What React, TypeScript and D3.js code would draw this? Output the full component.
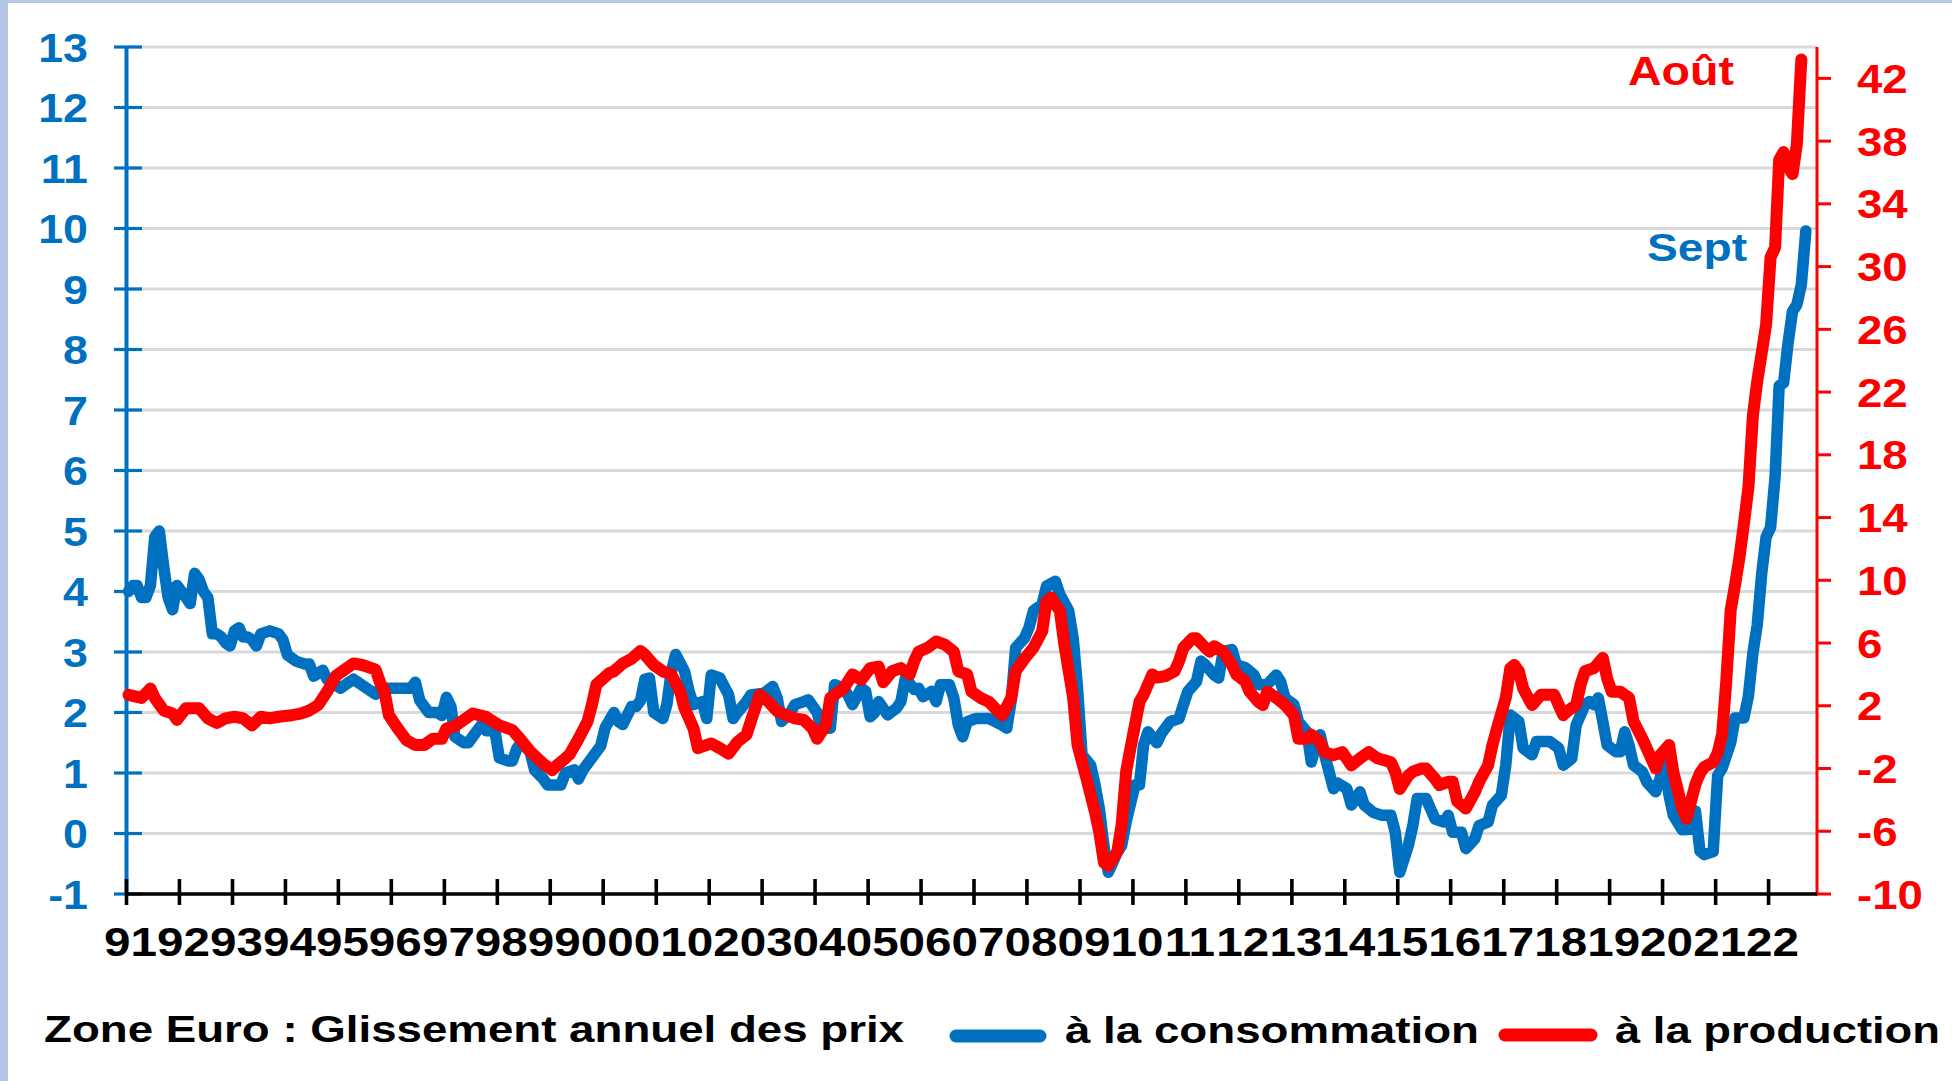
import React from 'react';
import * as d3 from 'd3';

const W = 1952;
const H = 1081;

const BLUE = '#0070C0';
const RED = '#FF0000';
const FONT = "'Liberation Sans', Arial, Helvetica, sans-serif";

const yearLabels = ['91','92','93','94','95','96','97','98','99','00','01','02','03','04','05','06','07','08','09','10','11','12','13','14','15','16','17','18','19','20','21','22'];
const leftTicks = [-1, 0, 1, 2, 3, 4, 5, 6, 7, 8, 9, 10, 11, 12, 13];
const rightTicks = [-10, -6, -2, 2, 6, 10, 14, 18, 22, 26, 30, 34, 38, 42];

const legendTitle = 'Zone Euro : Glissement annuel des prix';
const seriesNames = ['à la consommation', 'à la production'];
const endLabels = ['Sept', 'Août'];

// Glissement annuel des prix à la consommation (axe de gauche)
const consumption: [string, number][] = [
  ['1991-01',4.0],['1991-02',4.1],['1991-03',4.1],['1991-04',3.9],['1991-05',3.9],['1991-06',4.1],['1991-07',4.9],['1991-08',5.0],['1991-09',4.4],['1991-10',3.9],['1991-11',3.7],['1991-12',4.1],
  ['1992-01',4.0],['1992-02',3.9],['1992-03',3.8],['1992-04',4.3],['1992-05',4.2],['1992-06',4.0],['1992-07',3.9],['1992-08',3.3],['1992-09',3.3],['1992-10',3.25],['1992-11',3.15],['1992-12',3.1],
  ['1993-01',3.35],['1993-02',3.4],['1993-03',3.25],['1993-04',3.25],['1993-05',3.2],['1993-06',3.1],['1993-07',3.3],['1993-09',3.35],['1993-11',3.3],['1993-12',3.2],
  ['1994-01',2.95],['1994-03',2.85],['1994-05',2.8],['1994-06',2.8],['1994-07',2.6],['1994-09',2.7],['1994-10',2.55],['1994-12',2.45],
  ['1995-01',2.4],['1995-03',2.5],['1995-04',2.55],['1995-06',2.45],['1995-08',2.35],['1995-09',2.3],['1995-10',2.4],
  ['1996-01',2.4],['1996-05',2.4],['1996-06',2.5],['1996-07',2.2],['1996-08',2.1],['1996-09',2.0],['1996-11',2.0],['1996-12',1.95],
  ['1997-01',2.25],['1997-02',2.1],['1997-03',1.6],['1997-05',1.5],['1997-06',1.5],['1997-08',1.7],['1997-09',1.8],['1997-10',1.7],['1997-12',1.7],
  ['1998-01',1.25],['1998-03',1.2],['1998-04',1.2],['1998-05',1.4],['1998-06',1.5],['1998-08',1.35],['1998-09',1.05],['1998-11',0.9],['1998-12',0.8],
  ['1999-03',0.8],['1999-04',1.0],['1999-06',1.05],['1999-07',0.9],['1999-08',1.05],['1999-10',1.25],['1999-12',1.45],
  ['2000-01',1.75],['2000-03',2.0],['2000-04',1.85],['2000-05',1.8],['2000-07',2.1],['2000-08',2.1],['2000-09',2.2],['2000-10',2.55],['2000-11',2.57],['2000-12',2.0],
  ['2001-02',1.9],['2001-03',2.13],['2001-04',2.68],['2001-05',2.96],['2001-07',2.68],['2001-08',2.35],['2001-09',2.13],['2001-11',2.18],['2001-12',1.9],
  ['2002-01',2.62],['2002-03',2.57],['2002-05',2.29],['2002-06',1.9],['2002-07',2.0],['2002-09',2.18],['2002-10',2.29],
  ['2003-01',2.32],['2003-03',2.43],['2003-04',2.24],['2003-05',1.85],['2003-07',2.0],['2003-08',2.13],['2003-10',2.18],['2003-11',2.21],
  ['2004-01',2.0],['2004-02',1.74],['2004-04',1.74],['2004-05',2.46],['2004-07',2.4],['2004-08',2.29],['2004-09',2.13],['2004-11',2.4],['2004-12',2.35],
  ['2005-01',1.93],['2005-02',2.0],['2005-03',2.18],['2005-05',1.96],['2005-07',2.07],['2005-08',2.18],['2005-09',2.57],['2005-11',2.38],['2005-12',2.4],
  ['2006-01',2.26],['2006-03',2.35],['2006-04',2.18],['2006-05',2.46],['2006-07',2.46],['2006-08',2.24],['2006-09',1.79],['2006-10',1.6],['2006-11',1.85],
  ['2007-01',1.9],['2007-04',1.9],['2007-07',1.79],['2007-08',1.74],['2007-09',2.2],['2007-10',3.07],['2007-12',3.23],
  ['2008-01',3.4],['2008-02',3.68],['2008-04',3.79],['2008-05',4.09],['2008-07',4.17],['2008-08',3.95],['2008-10',3.68],['2008-11',3.23],['2008-12',2.4],
  ['2009-01',1.3],['2009-03',1.13],['2009-04',0.8],['2009-05',0.4],['2009-06',-0.2],['2009-07',-0.64],['2009-08',-0.48],['2009-09',-0.31],['2009-10',-0.2],['2009-11',0.19],
  ['2010-01',0.8],['2010-02',0.8],['2010-03',1.46],['2010-04',1.68],['2010-06',1.5],['2010-07',1.65],['2010-09',1.85],['2010-11',1.9],['2010-12',2.13],
  ['2011-01',2.35],['2011-03',2.51],['2011-04',2.85],['2011-05',2.79],['2011-07',2.62],['2011-08',2.57],['2011-09',3.01],['2011-11',3.04],['2011-12',2.79],
  ['2012-02',2.74],['2012-04',2.62],['2012-05',2.46],['2012-07',2.46],['2012-09',2.62],['2012-10',2.51],['2012-11',2.24],
  ['2013-01',2.13],['2013-02',1.85],['2013-04',1.68],['2013-05',1.18],['2013-06',1.46],['2013-07',1.63],['2013-08',1.3],['2013-10',0.74],['2013-11',0.83],
  ['2014-01',0.74],['2014-02',0.47],['2014-04',0.69],['2014-05',0.47],['2014-07',0.35],['2014-09',0.3],['2014-11',0.3],['2014-12',0.02],
  ['2015-01',-0.64],['2015-03',-0.2],['2015-04',0.13],['2015-05',0.58],['2015-07',0.58],['2015-08',0.41],['2015-09',0.24],['2015-11',0.19],['2015-12',0.3],
  ['2016-01',0.02],['2016-03',0.02],['2016-04',-0.25],['2016-06',-0.09],['2016-07',0.13],['2016-09',0.19],['2016-10',0.47],['2016-12',0.63],
  ['2017-01',1.13],['2017-02',1.96],['2017-04',1.85],['2017-05',1.41],['2017-07',1.3],['2017-08',1.52],['2017-11',1.52],
  ['2018-01',1.41],['2018-02',1.13],['2018-04',1.24],['2018-05',1.79],['2018-07',2.13],['2018-08',2.18],['2018-09',2.13],['2018-10',2.24],['2018-11',1.85],['2018-12',1.46],
  ['2019-02',1.35],['2019-03',1.35],['2019-04',1.68],['2019-05',1.46],['2019-06',1.13],['2019-08',1.02],['2019-09',0.85],['2019-11',0.69],['2019-12',0.91],
  ['2020-01',1.18],['2020-02',0.63],['2020-03',0.3],['2020-05',0.06],['2020-07',0.07],['2020-08',0.37],['2020-09',-0.29],['2020-10',-0.35],['2020-12',-0.3],
  ['2021-01',0.96],['2021-02',1.08],['2021-04',1.5],['2021-05',1.91],['2021-07',1.91],['2021-08',2.27],['2021-09',2.98],['2021-10',3.45],['2021-11',4.3],['2021-12',4.9],
  ['2022-01',5.06],['2022-02',5.9],['2022-03',7.4],['2022-04',7.45],['2022-05',8.1],['2022-06',8.63],['2022-07',8.74],['2022-08',9.07],['2022-09',9.96],
];

// Glissement annuel des prix à la production (axe de droite)
const production: [string, number][] = [
  ['1991-01',2.7],['1991-04',2.5],['1991-06',3.1],['1991-07',2.5],['1991-09',1.7],['1991-11',1.5],['1991-12',1.1],
  ['1992-02',1.85],['1992-05',1.85],['1992-07',1.2],['1992-09',0.9],['1992-11',1.2],
  ['1993-01',1.3],['1993-03',1.2],['1993-05',0.75],['1993-07',1.3],['1993-09',1.2],['1993-11',1.3],
  ['1994-02',1.4],['1994-04',1.5],['1994-06',1.7],['1994-08',2.05],['1994-10',2.9],['1994-12',3.9],
  ['1995-03',4.5],['1995-04',4.7],['1995-06',4.6],['1995-09',4.3],['1995-10',3.5],['1995-11',2.9],['1995-12',1.4],
  ['1996-02',0.55],['1996-04',-0.2],['1996-06',-0.5],['1996-08',-0.5],['1996-10',-0.1],['1996-12',-0.1],
  ['1997-01',0.55],['1997-03',0.7],['1997-05',1.1],['1997-07',1.5],['1997-10',1.3],['1997-11',1.1],
  ['1998-01',0.75],['1998-04',0.45],['1998-06',-0.2],['1998-08',-0.9],['1998-11',-1.7],
  ['1999-01',-2.1],['1999-02',-1.8],['1999-04',-1.35],['1999-05',-1.1],['1999-07',-0.1],['1999-09',1.0],['1999-10',2.05],['1999-11',3.35],
  ['2000-02',4.1],['2000-03',4.2],['2000-05',4.7],['2000-07',5.0],['2000-09',5.5],['2000-10',5.25],['2000-12',4.6],
  ['2001-02',4.2],['2001-04',4.0],['2001-06',2.9],['2001-07',1.85],['2001-09',0.55],['2001-10',-0.7],
  ['2002-01',-0.4],['2002-03',-0.7],['2002-05',-1.05],['2002-07',-0.3],['2002-09',0.15],['2002-10',1.0],['2002-12',2.7],
  ['2003-02',2.25],['2003-04',1.65],['2003-06',1.4],['2003-08',1.2],['2003-10',1.1],['2003-12',0.55],
  ['2004-01',-0.1],['2004-03',0.75],['2004-04',2.5],['2004-07',3.1],['2004-09',4.0],['2004-11',3.65],
  ['2005-01',4.4],['2005-03',4.5],['2005-04',3.5],['2005-06',4.2],['2005-08',4.4],['2005-10',4.0],['2005-11',4.85],['2005-12',5.45],
  ['2006-02',5.7],['2006-04',6.1],['2006-06',5.9],['2006-08',5.45],['2006-09',4.2],['2006-11',4.0],['2006-12',2.9],
  ['2007-02',2.5],['2007-04',2.25],['2007-06',1.65],['2007-07',1.4],['2007-09',2.5],['2007-10',4.2],['2007-12',5.0],
  ['2008-02',5.7],['2008-04',6.75],['2008-05',8.65],['2008-06',8.9],['2008-08',8.05],['2008-09',5.9],['2008-11',2.5],['2008-12',-0.5],
  ['2009-02',-2.65],['2009-04',-4.8],['2009-05',-6.1],['2009-06',-8.0],['2009-07',-8.2],['2009-09',-7.3],['2009-10',-5.6],['2009-11',-2.2],['2009-12',-0.7],
  ['2010-02',2.25],['2010-03',2.7],['2010-05',4.0],['2010-06',3.8],['2010-08',3.9],['2010-10',4.2],['2010-11',4.85],['2010-12',5.7],
  ['2011-02',6.3],['2011-03',6.3],['2011-05',5.7],['2011-06',5.45],['2011-07',5.8],['2011-09',5.45],['2011-11',4.6],['2011-12',4.0],
  ['2012-02',3.55],['2012-03',2.9],['2012-05',2.25],['2012-06',2.05],['2012-07',2.9],['2012-09',2.5],['2012-11',2.05],
  ['2013-01',1.4],['2013-02',-0.1],['2013-04',-0.1],['2013-05',0.15],['2013-07',-0.3],['2013-08',-0.95],['2013-10',-1.15],['2013-12',-0.95],
  ['2014-02',-1.8],['2014-04',-1.35],['2014-06',-0.95],['2014-08',-1.35],['2014-11',-1.6],['2014-12',-2.2],
  ['2015-01',-3.3],['2015-03',-2.45],['2015-04',-2.2],['2015-06',-2.0],['2015-07',-2.0],['2015-09',-2.65],['2015-10',-3.05],['2015-12',-2.85],
  ['2016-01',-2.85],['2016-02',-4.1],['2016-04',-4.55],['2016-06',-3.5],['2016-07',-2.85],['2016-09',-1.8],['2016-10',-0.5],['2016-11',0.55],
  ['2017-01',2.5],['2017-02',4.4],['2017-03',4.6],['2017-04',4.2],['2017-05',3.1],['2017-07',2.05],['2017-09',2.7],['2017-12',2.7],
  ['2018-01',2.05],['2018-02',1.4],['2018-03',1.65],['2018-05',2.05],['2018-06',3.35],['2018-07',4.2],['2018-09',4.4],['2018-11',5.05],['2018-12',3.75],
  ['2019-01',2.9],['2019-03',2.9],['2019-05',2.5],['2019-06',1.0],['2019-08',-0.1],['2019-10',-1.35],['2019-11',-2.0],['2019-12',-1.15],
  ['2020-02',-0.5],['2020-03',-2.2],['2020-05',-4.5],['2020-06',-5.2],['2020-07',-4.1],['2020-08',-3.0],['2020-09',-2.3],['2020-10',-1.9],['2020-12',-1.6],
  ['2021-01',-1.0],['2021-02',0.2],['2021-03',3.5],['2021-04',8.1],['2021-05',9.7],['2021-06',11.5],['2021-07',13.6],['2021-08',15.9],['2021-09',20.5],['2021-10',22.7],['2021-11',24.5],['2021-12',26.3],
  ['2022-01',30.6],['2022-02',31.2],['2022-03',36.8],['2022-04',37.3],['2022-05',36.4],['2022-06',35.9],['2022-07',37.8],['2022-08',43.2],
];

const parseMonth = d3.timeParse('%Y-%m');
const midMonth = (s: string) => {
  const d = parseMonth(s) as Date;
  return new Date(d.getFullYear(), d.getMonth(), 15);
};

function StretchText(props: {
  x: number; y: number; sx: number; anchor: 'start' | 'middle' | 'end';
  fill: string; size: number; children: React.ReactNode;
}) {
  const { x, y, sx, anchor, fill, size, children } = props;
  return (
    <text
      transform={`translate(${x},${y}) scale(${sx},1)`}
      textAnchor={anchor}
      fill={fill}
      fontSize={size}
      fontWeight="bold"
      fontFamily={FONT}
    >
      {children}
    </text>
  );
}

export default function App() {
  const plotLeft = 126.5;
  const plotRight = 1817;
  const plotTop = 47;
  const plotBottom = 894;

  const x = d3.scaleTime()
    .domain([new Date(1991, 0, 1), new Date(2022, 11, 1)])
    .range([plotLeft, plotRight]);
  const yL = d3.scaleLinear().domain([-1, 13]).range([plotBottom, plotTop]);
  const yR = d3.scaleLinear().domain([-10, 44]).range([plotBottom, plotTop]);

  const lineL = d3.line<[string, number]>()
    .x(d => x(midMonth(d[0])))
    .y(d => yL(d[1]));
  const lineR = d3.line<[string, number]>()
    .x(d => x(midMonth(d[0])))
    .y(d => yR(d[1]));

  const yearTicks = d3.timeYear.range(new Date(1991, 0, 1), new Date(2023, 0, 1));

  return (
    <svg
      width={W}
      height={H}
      viewBox={`0 0 ${W} ${H}`}
      style={{ position: 'absolute', left: 0, top: 0, display: 'block', background: '#ffffff' }}
    >
      <rect x={0} y={0} width={W} height={H} fill="#ffffff" />
      {/* cadre */}
      <rect x={0} y={0} width={8} height={H} fill="#b4c7e7" />
      <rect x={0} y={0} width={W} height={3} fill="#b4c7e7" />

      {/* grille horizontale */}
      {leftTicks.map(t => (
        <line key={'g' + t} x1={plotLeft} x2={plotRight} y1={yL(t)} y2={yL(t)} stroke="#d9d9d9" strokeWidth={3} />
      ))}

      {/* axe gauche */}
      <line x1={plotLeft} x2={plotLeft} y1={plotTop} y2={plotBottom} stroke={BLUE} strokeWidth={4} />
      {leftTicks.map(t => (
        <line key={'lt' + t} x1={114} x2={142} y1={yL(t)} y2={yL(t)} stroke={BLUE} strokeWidth={3.2} />
      ))}
      {leftTicks.map(t => (
        <StretchText key={'ll' + t} x={88} y={yL(t) + 14.5} sx={1.12} anchor="end" fill={BLUE} size={40}>
          {String(t)}
        </StretchText>
      ))}

      {/* axe droit */}
      <line x1={plotRight} x2={plotRight} y1={plotTop} y2={plotBottom + 1.5} stroke={RED} strokeWidth={3} />
      {rightTicks.map(t => (
        <line key={'rt' + t} x1={plotRight} x2={1831} y1={yR(t)} y2={yR(t)} stroke={RED} strokeWidth={3} />
      ))}
      {rightTicks.map(t => (
        <StretchText key={'rl' + t} x={1857} y={yR(t) + 14.5} sx={1.14} anchor="start" fill={RED} size={40}>
          {String(t)}
        </StretchText>
      ))}

      {/* axe horizontal */}
      <line x1={plotLeft - 1.5} x2={plotRight} y1={plotBottom} y2={plotBottom} stroke="#000000" strokeWidth={3.3} />
      {yearTicks.map((d, i) => (
        <line key={'xt' + i} x1={x(d)} x2={x(d)} y1={879} y2={905} stroke="#000000" strokeWidth={3.6} />
      ))}
      {yearTicks.map((d, i) => (
        <StretchText key={'xl' + i} x={x(d) + 4} y={956} sx={1.19} anchor="middle" fill="#000000" size={40}>
          {yearLabels[i]}
        </StretchText>
      ))}

      {/* séries */}
      <path d={lineL(consumption) || ''} fill="none" stroke={BLUE} strokeWidth={11.5} strokeLinejoin="round" strokeLinecap="round" />
      <path d={lineR(production) || ''} fill="none" stroke={RED} strokeWidth={12} strokeLinejoin="round" strokeLinecap="round" />

      {/* étiquettes de fin */}
      <text x={1628} y={85} fill={RED} fontSize={40} fontWeight="bold" fontFamily={FONT}
        textLength={106} lengthAdjust="spacingAndGlyphs">{endLabels[1]}</text>
      <text x={1647} y={261} fill={BLUE} fontSize={39} fontWeight="bold" fontFamily={FONT}
        textLength={100} lengthAdjust="spacingAndGlyphs">{endLabels[0]}</text>

      {/* légende */}
      <text x={44} y={1042} fill="#000000" fontSize={36} fontWeight="bold" fontFamily={FONT}
        textLength={860} lengthAdjust="spacingAndGlyphs">{legendTitle}</text>
      <line x1={956} x2={1040} y1={1036} y2={1036} stroke={BLUE} strokeWidth={13} strokeLinecap="round" />
      <text x={1065} y={1043} fill="#000000" fontSize={36} fontWeight="bold" fontFamily={FONT}
        textLength={414} lengthAdjust="spacingAndGlyphs">{seriesNames[0]}</text>
      <line x1={1505} x2={1591} y1={1035} y2={1035} stroke={RED} strokeWidth={13} strokeLinecap="round" />
      <text x={1615} y={1043} fill="#000000" fontSize={36} fontWeight="bold" fontFamily={FONT}
        textLength={325} lengthAdjust="spacingAndGlyphs">{seriesNames[1]}</text>
    </svg>
  );
}
